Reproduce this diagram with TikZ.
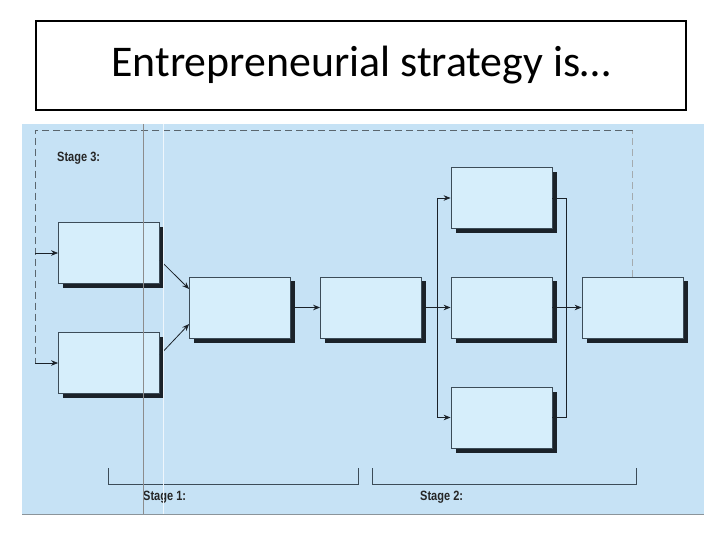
\documentclass[tikz,border=0pt]{standalone}
\usepackage{fontspec}
\setmainfont{Carlito}
\newfontfamily\stagefont[FakeStretch=0.82]{Liberation Sans}
\usetikzlibrary{shadows}
\usetikzlibrary{positioning}
\usetikzlibrary{arrows.meta}
\definecolor{panelblue}{HTML}{C6E2F5}
\definecolor{boxblue}{HTML}{D6EEFB}
\definecolor{boxline}{HTML}{3C4C58}
\definecolor{boxshadow}{HTML}{1B2229}
\definecolor{loopgray}{HTML}{5A666E}
\tikzstyle{stagebox}=[rectangle,draw=boxline,fill=boxblue,line width=0.8pt,minimum width=101bp,minimum height=61bp,inner sep=0pt,drop shadow={shadow xshift=4.5bp,shadow yshift=-4.5bp,fill=boxshadow,opacity=1}]
\tikzstyle{flow}=[draw,-{Stealth[length=7bp,width=5.5bp]},line width=0.8pt,color=boxshadow]
\tikzstyle{plainline}=[draw,line width=0.8pt,color=boxshadow]
\tikzstyle{loopline}=[draw,dash pattern=on 7bp off 4bp,line width=0.8pt,color=loopgray]
\tikzstyle{stagelabel}=[font=\stagefont\bfseries\fontsize{13.5}{15}\selectfont,anchor=west,inner sep=0pt,color=black!85]
\begin{document}
\begin{tikzpicture}[x=1bp, y=-1bp]
    \useasboundingbox (0,0) rectangle (720,540);
    % Title
    \node[draw=black, line width=2.5bp, minimum width=650bp, minimum height=89bp, inner sep=0pt, font=\fontsize{44}{52}\selectfont] (title) at (361,65.5) {Entrepreneurial strategy is…};
    % Blue panel
    \fill[panelblue] (22,124) rectangle (704,514);
    \draw[loopgray!70, line width=0.8pt] (22,514) -- (704,514);

    % First we draw the boxes
    \foreach \pos/\name in {{(109,253)/inA}, {(109,363)/inB}, {(240,307.5)/mid}, {(371,307.5)/plan}, {(501.5,198)/optA}, {(501.5,307.5)/optB}, {(501.5,417.5)/optC}, {(632.5,307.5)/out}}
        \node[stagebox] (\name) at \pos {};

    \coordinate (loop) at (35,130);
    \coordinate (split) at (437,307.5);
    \coordinate (join) at (566,307.5);

    % Connect boxes with arrows
    \foreach \source/ \dest in {inA.-8/mid.160, inB.9/mid.198, mid/plan, plan/optB, optB/out}
        \path[flow] (\source) -- (\dest);
    \foreach \dest in {optA, optC}
        \path[flow] (split |- \dest.west) -- (\dest.west);
    \path[plainline] (split |- optA.west) -- (split |- optC.west);
    \path[plainline] (optA.east) -- (join |- optA.east) -- (join |- optC.east) -- (optC.east);

    % Feedback loop
    \path[loopline, loopgray!55] (out.north) -- (out.north |- loop);
    \path[loopline] (out.north |- loop) -- (loop) -- (loop |- inB.west);
    \foreach \dest in {inA, inB}
        \path[flow] (loop |- \dest.west) -- (\dest.west);

    % Stage brackets and labels
    \coordinate (oneL) at (108,468);
    \coordinate (oneR) at (358,468);
    \coordinate (twoL) at (372,468);
    \coordinate (twoR) at (636,468);
    \path[draw, line width=0.8pt, boxline] (oneL) -- ++(0,16) -| (oneR);
    \path[draw, line width=0.8pt, boxline] (twoL) -- ++(0,16) -| (twoR);
    \node[stagelabel] (stage3) at (57,158) {Stage 3:};
    \node[stagelabel] (stage1) at (143,497) {Stage 1:};
    \node[stagelabel] (stage2) at (420,497) {Stage 2:};

    % scan lines
    \draw[black!45, line width=0.7pt] (143,124) -- (143,514);
    \draw[white!70!panelblue, line width=0.6pt] (163,124) -- (163,514);
\end{tikzpicture}
\end{document}
